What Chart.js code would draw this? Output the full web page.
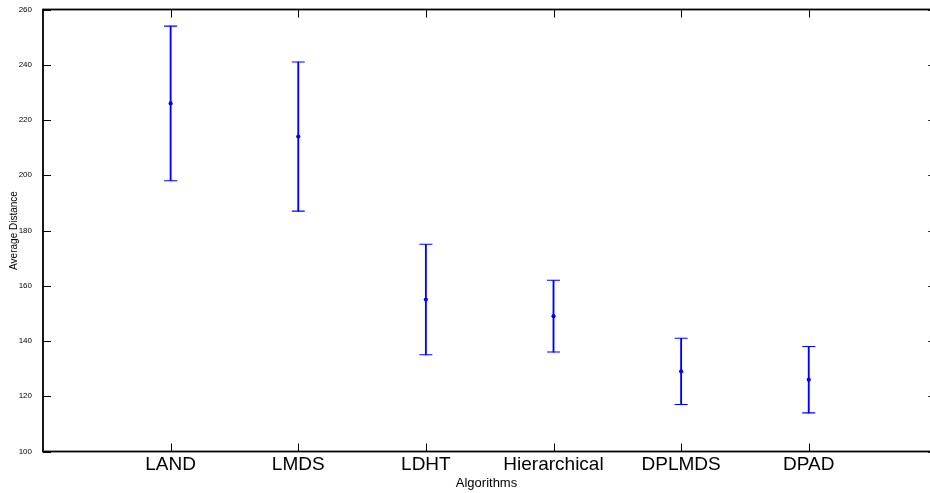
<!DOCTYPE html>
<html>
<head>
<meta charset="utf-8">
<script src="https://cdn.jsdelivr.net/npm/chart.js@4/dist/chart.umd.min.js"></script>
<style>
html,body{margin:0;padding:0;background:#fff;overflow:hidden;}
canvas{display:block;}
</style>
</head>
<body>
<canvas id="c" width="930" height="493"></canvas>
<script>
const categories = ['LAND', 'LMDS', 'LDHT', 'Hierarchical', 'DPLMDS', 'DPAD'];
const meanValues = [226, 214, 155, 149, 129, 126];
const lowerValues = [198, 187, 135, 136, 117, 114];
const upperValues = [254, 241, 175, 162, 141, 138];
const yTickValues = [100, 120, 140, 160, 180, 200, 220, 240, 260];
const xLimits = [0, 7];

const BLUE = '#0000ff';
const FONT = "'Liberation Sans', Arial, Helvetica, sans-serif";

const xy = (vals) => vals.map((v, i) => ({x: i + 1, y: v}));

const framePlugin = {
  id: 'frame',
  afterDatasetsDraw(chart) {
    const {ctx, chartArea: a, scales: {x, y}} = chart;
    const right = x.getPixelForValue(xLimits[1]);
    ctx.save();
    ctx.strokeStyle = '#000';
    ctx.lineWidth = 1;
    const L = 8;
    yTickValues.forEach(v => {
      const py = Math.round(y.getPixelForValue(v)) + 0.5;
      ctx.beginPath();
      ctx.moveTo(a.left, py); ctx.lineTo(a.left + L, py);
      ctx.moveTo(right, py); ctx.lineTo(right - L, py);
      ctx.stroke();
    });
    categories.forEach((c, i) => {
      const px = Math.round(x.getPixelForValue(i + 1)) + 0.5;
      ctx.beginPath();
      ctx.moveTo(px, a.bottom); ctx.lineTo(px, a.bottom - L);
      ctx.moveTo(px, a.top); ctx.lineTo(px, a.top + L);
      ctx.stroke();
    });
    ctx.lineWidth = 1.8;
    ctx.strokeRect(a.left, a.top, right - a.left, a.bottom - a.top);
    ctx.restore();
  }
};

new Chart(document.getElementById('c'), {
  type: 'bar',
  data: {
    datasets: [
      {
        type: 'bar',
        data: categories.map((c, i) => ({x: i + 1, y: [lowerValues[i], upperValues[i]]})),
        backgroundColor: BLUE,
        borderWidth: 0,
        barThickness: 1.2,
        order: 3
      },
      {
        type: 'scatter',
        data: xy(lowerValues),
        pointStyle: 'line',
        pointRadius: 6.5,
        borderColor: BLUE,
        borderWidth: 1.1,
        order: 2
      },
      {
        type: 'scatter',
        data: xy(upperValues),
        pointStyle: 'line',
        pointRadius: 6.5,
        borderColor: BLUE,
        borderWidth: 1.1,
        order: 2
      },
      {
        type: 'scatter',
        data: xy(meanValues),
        pointStyle: 'circle',
        pointRadius: 2.1,
        backgroundColor: BLUE,
        borderColor: BLUE,
        borderWidth: 0,
        order: 1
      }
    ]
  },
  options: {
    responsive: false,
    maintainAspectRatio: false,
    animation: false,
    layout: {autoPadding: false, padding: {top: 9.5, right: 0, left: 0, bottom: 0}},
    plugins: {legend: {display: false}, tooltip: {enabled: false}},
    scales: {
      x: {
        type: 'linear',
        min: xLimits[0],
        max: 6.95,
        offset: false,
        grid: {display: false},
        border: {display: false},
        afterBuildTicks: (s) => { s.ticks = categories.map((c, i) => ({value: i + 1})); },
        afterFit: (s) => { s.height = 41.5; },
        ticks: {
          autoSkip: false,
          maxRotation: 0,
          padding: -6,
          color: '#000',
          font: {family: FONT, size: 19},
          callback: (v) => categories[v - 1] || ''
        },
        title: {
          display: true,
          text: 'Algorithms',
          color: '#000',
          font: {family: FONT, size: 13},
          padding: {top: 0, bottom: 1.5}
        }
      },
      y: {
        min: 100,
        max: 260,
        grid: {display: false},
        border: {display: false},
        afterBuildTicks: (s) => { s.ticks = yTickValues.map(v => ({value: v})); },
        afterFit: (s) => { s.width = 43; },
        ticks: {
          padding: 3,
          color: '#000',
          font: {family: FONT, size: 8}
        },
        title: {
          display: true,
          text: 'Average Distance',
          color: '#000',
          font: {family: FONT, size: 10},
          padding: {top: 8.5, bottom: 0}
        }
      }
    }
  },
  plugins: [framePlugin]
});
</script>
</body>
</html>
